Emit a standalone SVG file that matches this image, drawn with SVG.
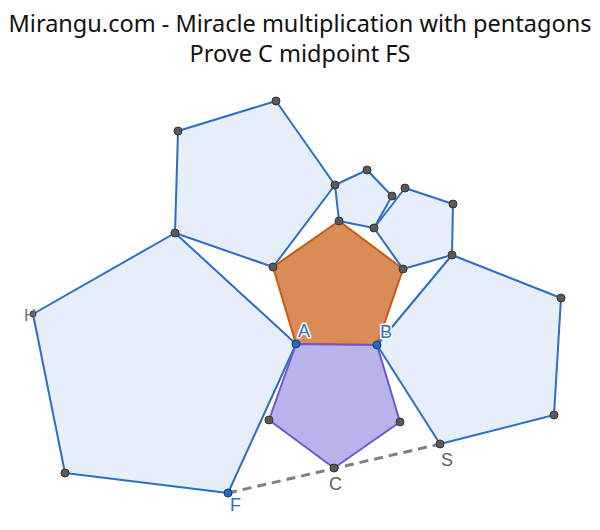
<svg xmlns="http://www.w3.org/2000/svg" width="600" height="530" viewBox="0 0 600 530">
<style>
.title{font-family:"Noto Sans","Open Sans",sans-serif;font-size:23.5px;fill:#111;text-anchor:middle}
.bp{fill:#e6eff9;stroke:#2a6fc2;stroke-width:2;stroke-linejoin:round}
.op{fill:#d98c55;stroke:#c85a10;stroke-width:2;stroke-linejoin:round}
.pp{fill:#b8b3ea;stroke:#6a58d0;stroke-width:2;stroke-linejoin:round}
.pt{fill:#5a5a5a;stroke:#333;stroke-width:1}
.bpt{fill:#1f6cc4;stroke:#15396b;stroke-width:1}
.lb{font-family:"Liberation Sans",Arial,sans-serif;font-size:18px;paint-order:stroke;stroke:#fff;stroke-width:3px;stroke-linejoin:round}
.blue{fill:#2a6fc2}
.gray{fill:#606060}
</style>
<rect width="600" height="530" fill="#fff"/>
<text class="title" x="300" y="32">Mirangu.com - Miracle multiplication with pentagons</text>
<text class="title" x="300" y="62">Prove C midpoint FS</text>
<g id="pentagon-left"><polygon class="bp" points="296,344 175,233 33,314 65,473 228,493"/></g>
<g id="pentagon-upper-left"><polygon class="bp" points="273,267 175,233 178,131 276,101 335,185"/></g>
<g id="pentagon-small"><polygon class="bp" points="339,221 335,185 367,170 392,196 374,228"/></g>
<g id="pentagon-upper-right"><polygon class="bp" points="403,269 374,228 405,188 453,204 452,255"/></g>
<g id="pentagon-right"><polygon class="bp" points="377,345 452,255 561,298 554,415 440,444"/></g>
<g id="pentagon-orange"><polygon class="op" points="296,344 377,345 403,269 339,221 273,267"/></g>
<g id="pentagon-purple"><polygon class="pp" points="296,344 377,345 400,422 334,468 269,420"/></g>
<g id="connectors"><line x1="228" y1="493" x2="440" y2="444" stroke="#808080" stroke-width="3" stroke-dasharray="9,6"/></g>
<g id="points">
<circle class="pt" cx="178" cy="131" r="4"/>
<circle class="pt" cx="276" cy="101" r="4"/>
<circle class="pt" cx="335" cy="185" r="4"/>
<circle class="pt" cx="175" cy="233" r="4"/>
<circle class="pt" cx="273" cy="267" r="4"/>
<circle class="pt" cx="367" cy="170" r="4"/>
<circle class="pt" cx="392" cy="196" r="4"/>
<circle class="pt" cx="339" cy="221" r="4"/>
<circle class="pt" cx="374" cy="228" r="4"/>
<circle class="pt" cx="405" cy="188" r="4"/>
<circle class="pt" cx="453" cy="204" r="4"/>
<circle class="pt" cx="452" cy="255" r="4"/>
<circle class="pt" cx="403" cy="269" r="4"/>
<circle class="pt" cx="561" cy="298" r="4"/>
<circle class="pt" cx="554" cy="415" r="4"/>
<circle class="pt" cx="440" cy="444" r="4"/>
<circle class="pt" cx="65" cy="473" r="4"/>
<circle class="pt" cx="33" cy="314" r="3"/>
<circle class="pt" cx="269" cy="420" r="4"/>
<circle class="pt" cx="400" cy="422" r="4"/>
<circle class="pt" cx="334" cy="468" r="4"/>
<circle class="bpt" cx="296" cy="344" r="4"/>
<circle class="bpt" cx="377" cy="345" r="4"/>
<circle class="bpt" cx="228" cy="493" r="4"/>
</g>
<g id="labels">
<text class="lb blue" x="298" y="337">A</text>
<text class="lb blue" x="380" y="338">B</text>
<text class="lb blue" x="230" y="511">F</text>
<text class="lb gray" x="329" y="490">C</text>
<text class="lb gray" x="441" y="466">S</text>
<text x="24" y="321" font-family="Liberation Sans, Arial, sans-serif" font-size="17" fill="#707070">H</text>
</g>
</svg>
